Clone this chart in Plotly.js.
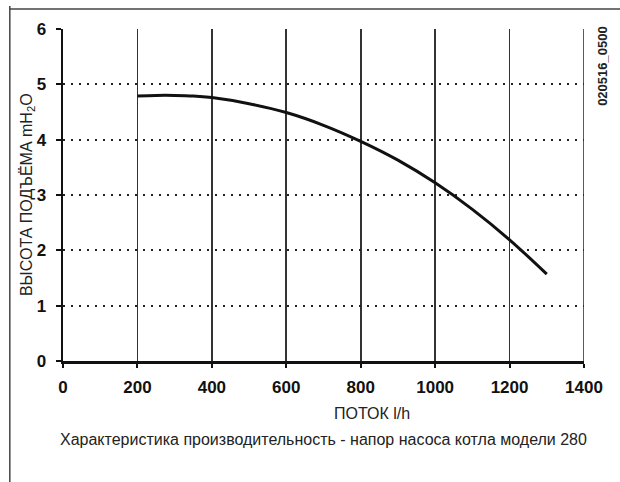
<!DOCTYPE html>
<html>
<head>
<meta charset="utf-8">
<script src="https://cdn.plot.ly/plotly-3.0.1.min.js"></script>
<style>html,body{margin:0;padding:0;background:#fff;}#chart{width:620px;height:482px;}</style>
</head>
<body>
<div id="chart"></div>
<script>
// Data
var flow = [200, 250, 300, 350, 400, 500, 600, 700, 800, 900, 1000, 1100, 1200, 1300];
var head = [4.79, 4.80, 4.80, 4.79, 4.76, 4.65, 4.49, 4.26, 3.97, 3.63, 3.22, 2.74, 2.19, 1.57];
var xTicks = [0, 200, 400, 600, 800, 1000, 1200, 1400];
var yTicks = [0, 1, 2, 3, 4, 5, 6];
var xTitle = 'ПОТОК l/h';
var yTitle = 'ВЫСОТА ПОДЪЁМА mH<sub>2</sub>O';
var caption = 'Характеристика производительность - напор насоса котла модели 280';
var code = '020516_0500';

var sans = '"Liberation Sans", Arial, sans-serif';

var trace = {
  x: flow, y: head, type: 'scatter', mode: 'lines',
  line: {color: '#111', width: 3, shape: 'spline', smoothing: 1},
  hoverinfo: 'skip', showlegend: false
};

var layout = {
  width: 620, height: 482,
  margin: {l: 63, r: 36, t: 29, b: 121},
  paper_bgcolor: '#fff', plot_bgcolor: '#fff',
  showlegend: false,
  xaxis: {
    range: [0, 1400], tickvals: xTicks, ticktext: xTicks.map(String),
    showgrid: true, gridcolor: '#333', gridwidth: 1.6,
    zeroline: false, showline: true, linecolor: '#111', linewidth: 2.5,
    ticks: 'outside', ticklen: 4, tickwidth: 2, tickcolor: '#111',
    tickfont: {family: sans, size: 17, color: '#111', weight: 'bold'},
    ticklabelstandoff: 5,
    fixedrange: true
  },
  yaxis: {
    range: [0, 6], tickvals: yTicks, ticktext: yTicks.map(String),
    showgrid: true, gridcolor: '#222', gridwidth: 1.8, griddash: '2px,6px',
    zeroline: false, showline: true, linecolor: '#111', linewidth: 2.5,
    ticks: 'outside', ticklen: 5, tickwidth: 2, tickcolor: '#111',
    tickfont: {family: sans, size: 17, color: '#111', weight: 'bold'},
    ticklabelstandoff: 6,
    fixedrange: true
  },
  shapes: [
    {type: 'line', xref: 'x', yref: 'y', x0: 1400, x1: 1400, y0: 0, y1: 6,
     line: {color: '#333', width: 1.6}},
    {type: 'line', xref: 'paper', yref: 'paper', x0: -0.1021, x1: -0.1021, y0: 1.069, y1: -0.40,
     line: {color: '#444', width: 1.5}},
    {type: 'line', xref: 'paper', yref: 'paper', x0: -0.1021, x1: 1.08, y0: 1.0602, y1: 1.0602,
     line: {color: '#444', width: 1.5}}
  ],
  annotations: [
    {text: yTitle, xref: 'paper', yref: 'paper', x: -0.069, y: 0.5, xanchor: 'center', yanchor: 'middle',
     textangle: -90, showarrow: false, font: {family: sans, size: 16, color: '#222'}},
    {text: xTitle, xref: 'paper', yref: 'paper', x: 0.5937, y: -0.157, xanchor: 'center', yanchor: 'middle',
     showarrow: false, font: {family: sans, size: 16, color: '#222'}},
    {text: caption, xref: 'paper', yref: 'paper', x: 0.5, y: -0.237, xanchor: 'center', yanchor: 'middle',
     showarrow: false, font: {family: sans, size: 16, color: '#222'}},
    {text: code, xref: 'paper', yref: 'paper', x: 1.0365, y: 0.889, xanchor: 'center', yanchor: 'middle',
     textangle: -90, showarrow: false, font: {family: sans, size: 13, color: '#222', weight: 'bold'}}
  ]
};

Plotly.newPlot('chart', [trace], layout, {staticPlot: true, displayModeBar: false});
</script>
</body>
</html>
